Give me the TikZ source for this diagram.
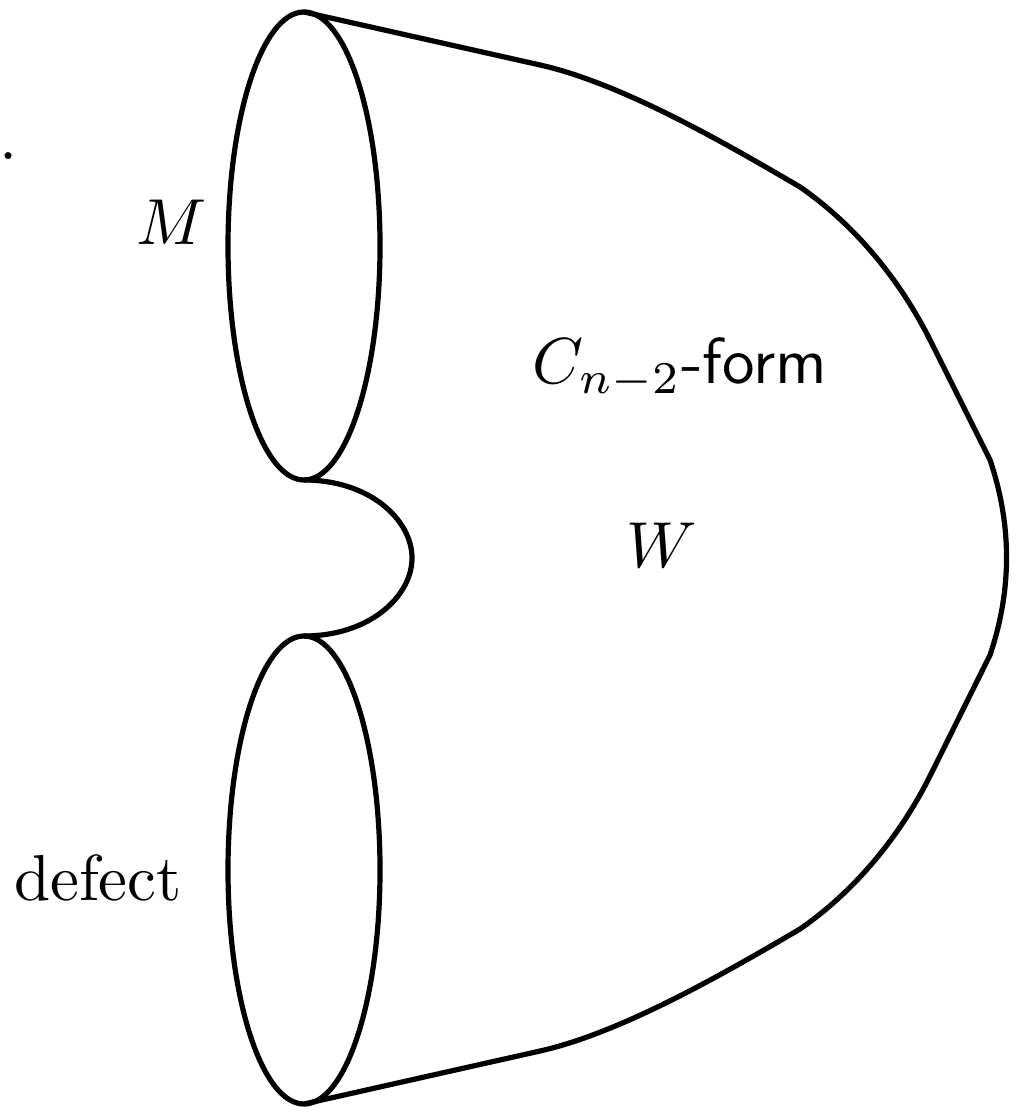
\documentclass[tikz,border=0pt]{standalone}
\begin{document}
\begin{tikzpicture}[x=0.1538pt,y=-0.1538pt,
  edge/.style={line width=0.8pt,line join=round},
  lbl/.style={inner sep=0pt}]
\useasboundingbox (0,0) rectangle (1021,1107);
% top and bottom ellipses
\draw[edge] (304,246) ellipse [x radius=76, y radius=234];
\draw[edge] (304,870) ellipse [x radius=76, y radius=234];
\coordinate (t) at (304,12);
\coordinate (b) at (304,1104);
\coordinate (n1) at (304,480);
\coordinate (n2) at (304,636);
% neck
\draw[edge] (n1) .. controls (370,480) and (412,520) .. (412,558)
  .. controls (412,596) and (370,636) .. (n2);
% outer boundary
\draw[edge] (t) -- (540,65)
  .. controls (620,83) and (720,140) .. (800,187)
  .. controls (855,225) and (900,280) .. (930,340)
  -- (990,460) .. controls (1012,525) and (1012,590) .. (990,655)
  -- (930,776)
  .. controls (900,836) and (855,891) .. (800,929)
  .. controls (720,976) and (620,1033) .. (540,1051) -- (b);
% labels
\node[lbl] (M) at (172,222) {$M$};
\node[lbl] (D) at (98,878) {defect};
\node[lbl] (C) at (680,368) {$C_{n-2}$-\textsf{form}};
\node[lbl] (W) at (662,545) {$W$};
\node[lbl,anchor=base east] (frag) at (19,160) {$V$.};
\end{tikzpicture}
\end{document}
